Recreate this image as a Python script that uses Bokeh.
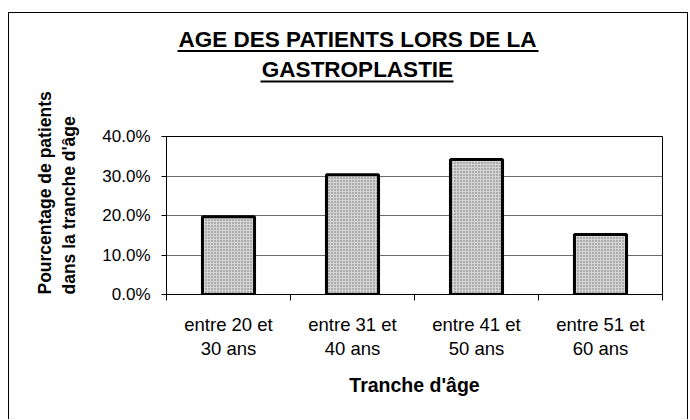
from bokeh.plotting import figure
from bokeh.layouts import column
from bokeh.models import (Range1d, FixedTicker, NumeralTickFormatter, Title,
                          ColumnDataSource)
from bokeh.core.properties import value
from bokeh.embed import file_html
from bokeh.resources import INLINE

# ---- data ----
categories = ["entre 20 et\n30 ans", "entre 31 et\n40 ans",
              "entre 41 et\n50 ans", "entre 51 et\n60 ans"]
percentages = [0.197, 0.303, 0.342, 0.152]
y_ticks = [0.0, 0.1, 0.2, 0.3, 0.4]
title_lines = ["AGE DES PATIENTS LORS DE LA", "GASTROPLASTIE"]
x_label = "Tranche d'âge"
y_label = "Pourcentage de patients\ndans la tranche d'âge"

FONT = "Liberation Sans"
FW = 678            # inner width of the framed chart
TH = 79             # height of the title strip
MH = 327            # height of the plot part
BL, BR = 157, 25    # left / right borders around the plotting frame
FRAME_W = FW - BL - BR

positions = list(range(1, len(categories) + 1))
boundaries = [q - 0.5 for q in positions] + [positions[-1] + 0.5]

# ---------- title strip (pixel coordinates, frame aligned with the plot) ----------
t = figure(width=FW, height=TH, output_backend="svg", toolbar_location=None,
           x_axis_type=None, y_axis_type=None,
           min_border_left=BL, min_border_right=BR, min_border_top=0,
           min_border_bottom=0,
           x_range=Range1d(0, FRAME_W), y_range=Range1d(0, TH))
t.outline_line_color = None
t.background_fill_color = "white"
t.border_fill_color = "white"
t.grid.visible = False
t.text(x=[191, 191], y=[53.5, 23.5], text=title_lines, text_align="center",
       text_baseline="alphabetic", text_font=value(FONT),
       text_font_style="bold", text_font_size="22.5px", text_color="black")
t.segment(x0=[11, 94], y0=[41.5, 11], x1=[372, 287], y1=[41.5, 11],
          line_color="black", line_width=2)

# ---------- plot ----------
p = figure(width=FW, height=MH, output_backend="svg", toolbar_location=None,
           x_range=Range1d(0.5, len(categories) + 0.5), y_range=Range1d(0, 0.4),
           min_border_left=BL, min_border_right=BR, min_border_top=44,
           min_border_bottom=125)
p.background_fill_color = "white"
p.border_fill_color = "white"
p.outline_line_color = "black"
p.outline_line_width = 1

src = ColumnDataSource(dict(x=positions, top=percentages))
p.vbar(x="x", top="top", width=0.42, source=src, fill_color="#d4d4d4",
       line_color="black", line_width=3, hatch_pattern=".", hatch_color="#555555",
       hatch_scale=3, hatch_alpha=0.8)

p.xgrid.visible = False
p.ygrid.ticker = FixedTicker(ticks=y_ticks)
p.ygrid.grid_line_color = "#6a6a6a"
p.ygrid.grid_line_width = 1

ya = p.yaxis[0]
ya.ticker = FixedTicker(ticks=y_ticks)
ya.formatter = NumeralTickFormatter(format="0.0%")
ya.major_tick_out = 5
ya.major_tick_in = 0
ya.minor_tick_out = 0
ya.minor_tick_in = 0
ya.axis_line_color = "black"
ya.major_tick_line_color = "black"
ya.major_label_text_font = FONT
ya.major_label_text_font_size = "17px"
ya.major_label_text_color = "black"
ya.major_label_standoff = 11

xa = p.xaxis[0]
xa.ticker = FixedTicker(ticks=positions, minor_ticks=boundaries)
xa.major_label_overrides = {pos: cat for pos, cat in zip(positions, categories)}
xa.major_tick_out = 0
xa.major_tick_in = 0
xa.minor_tick_out = 6
xa.minor_tick_in = 0
xa.minor_tick_line_color = "black"
xa.axis_line_color = "black"
xa.major_label_text_font = FONT
xa.major_label_text_font_size = "18.5px"
xa.major_label_text_color = "black"
xa.major_label_text_line_height = 1.17
xa.major_label_standoff = 13
xa.axis_label = x_label
xa.axis_label_text_font = FONT
xa.axis_label_text_font_style = "bold"
xa.axis_label_text_font_size = "19.5px"
xa.axis_label_text_color = "black"
xa.axis_label_standoff = 12

# y label: a two-line vertical title to the left of the axis
p.add_layout(Title(text=y_label, align="left", offset=0, standoff=40,
                   text_font=FONT, text_font_style="bold",
                   text_font_size="17.5px", text_line_height=1.24,
                   text_color="black"), "left")

layout = column(t, p, spacing=0, margin=(12, 0, 0, 8),
                styles={"border-top": "1px solid black",
                        "border-left": "1px solid black",
                        "border-right": "1px solid black"})

open("out.html", "w").write(file_html(layout, INLINE))
